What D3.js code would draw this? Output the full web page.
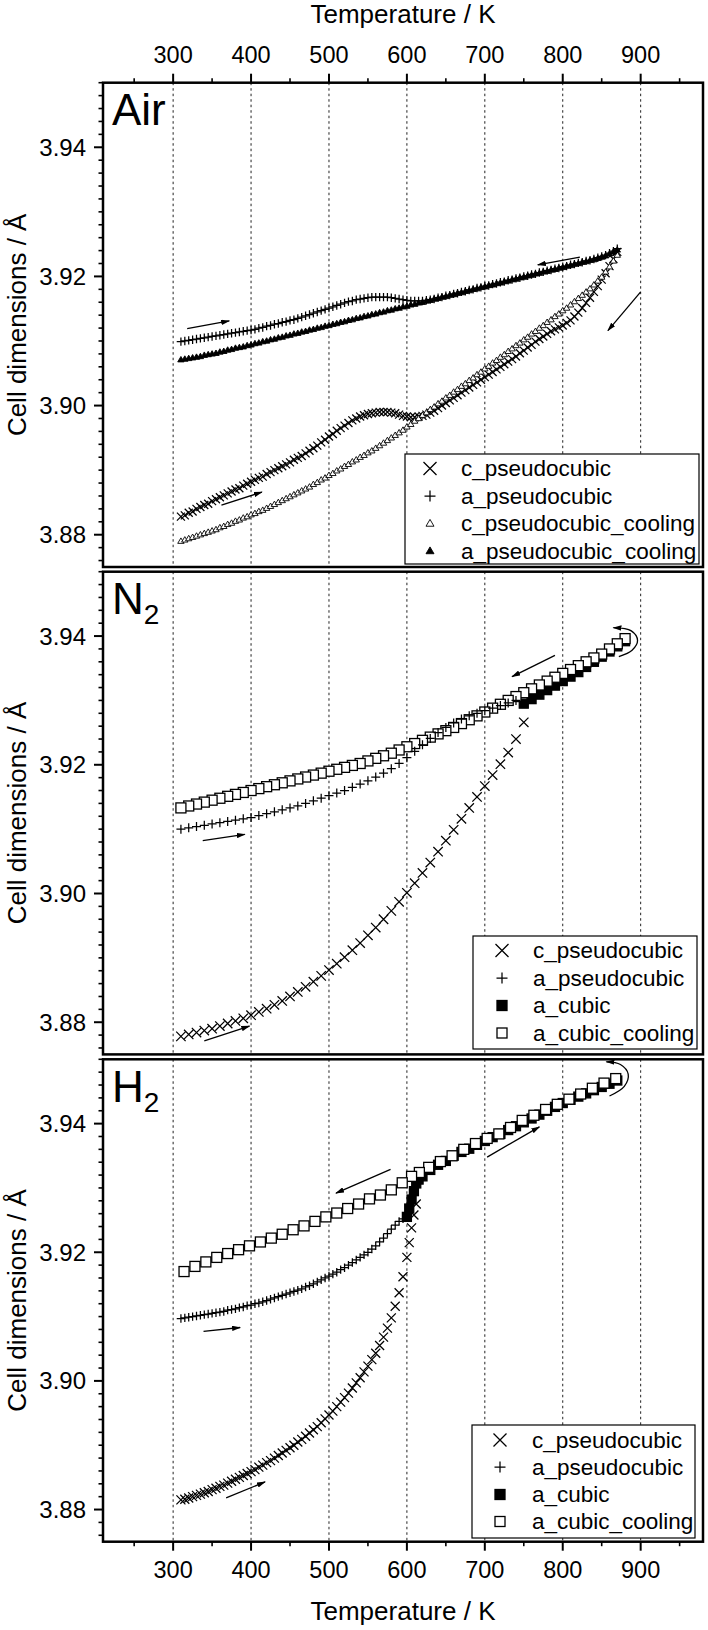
<!DOCTYPE html>
<html><head><meta charset="utf-8">
<script src="https://cdn.jsdelivr.net/npm/d3@7"></script>
<style>body{margin:0;background:#fff;} svg{display:block;} text{font-family:"Liberation Sans",Arial,sans-serif;fill:#000;}</style>
</head><body><div id="chart"></div>
<script>
// ---------------- data ----------------
const T_TICKS = [300,400,500,600,700,800,900];
const T_MINOR = [250,350,450,550,650,750,850,950];
const Y_TICKS = [3.88,3.90,3.92,3.94];
const T_DOMAIN = [210,980];
const Y_DOMAIN = [3.875,3.95];

// Air (temperatures of the dense heating/cooling scans)
const AIR_T = [310,315,320,325,330,335,340,345,350,355,360,365,370,375,380,385,390,395,400,405,410,415,420,425,430,435,440,445,450,455,460,465,470,475,480,485,490,495,500,505,510,515,520,525,530,535,540,545,550,555,560,565,570,575,580,585,590,595,600,605,610,615,620,625,630,635,640,645,650,655,660,665,670,675,680,685,690,695,700,705,710,715,720,725,730,735,740,745,750,755,760,765,770,775,780,785,790,795,800,805,810,815,820,825,830,835,840,845,850,855,860,865,870];
const air_c = [3.8828,3.8830,3.8834,3.8836,3.8840,3.8843,3.8846,3.8848,3.8852,3.8855,3.8858,3.8861,3.8864,3.8867,3.8870,3.8872,3.8876,3.8879,3.8882,3.8885,3.8888,3.8890,3.8894,3.8897,3.8900,3.8903,3.8906,3.8909,3.8912,3.8916,3.8919,3.8922,3.8926,3.8930,3.8934,3.8938,3.8943,3.8947,3.8952,3.8956,3.8961,3.8965,3.8969,3.8973,3.8977,3.8980,3.8983,3.8985,3.8987,3.8988,3.8989,3.8990,3.8990,3.8990,3.8989,3.8988,3.8986,3.8984,3.8983,3.8982,3.8982,3.8983,3.8984,3.8986,3.8989,3.8992,3.8996,3.9000,3.9004,3.9008,3.9012,3.9016,3.9020,3.9024,3.9028,3.9032,3.9036,3.9040,3.9044,3.9048,3.9052,3.9056,3.9060,3.9064,3.9068,3.9072,3.9076,3.9081,3.9085,3.9090,3.9094,3.9099,3.9103,3.9107,3.9111,3.9115,3.9118,3.9121,3.9124,3.9128,3.9132,3.9138,3.9144,3.9151,3.9159,3.9167,3.9176,3.9185,3.9195,3.9205,3.9216,3.9227,3.9238];
const air_a = [3.9099,3.9100,3.9101,3.9102,3.9103,3.9104,3.9105,3.9106,3.9107,3.9108,3.9109,3.9110,3.9111,3.9112,3.9113,3.9114,3.9115,3.9116,3.9117,3.9118,3.9120,3.9121,3.9123,3.9124,3.9126,3.9127,3.9129,3.9130,3.9132,3.9133,3.9135,3.9137,3.9139,3.9141,3.9143,3.9145,3.9147,3.9149,3.9151,3.9153,3.9155,3.9157,3.9159,3.9161,3.9162,3.9164,3.9165,3.9166,3.9167,3.9168,3.9168,3.9168,3.9168,3.9168,3.9167,3.9166,3.9165,3.9164,3.9163,3.9162,3.9162,3.9162,3.9162,3.9163,3.9164,3.9165,3.9167,3.9168,3.9170,3.9171,3.9173,3.9174,3.9176,3.9177,3.9179,3.9180,3.9182,3.9183,3.9185,3.9186,3.9188,3.9189,3.9191,3.9192,3.9194,3.9195,3.9197,3.9198,3.9200,3.9201,3.9203,3.9204,3.9206,3.9207,3.9209,3.9210,3.9212,3.9213,3.9215,3.9216,3.9218,3.9219,3.9221,3.9222,3.9224,3.9225,3.9227,3.9229,3.9231,3.9233,3.9236,3.9239,3.9243];
const air_c_cool = [3.8790,3.8792,3.8794,3.8796,3.8798,3.8800,3.8802,3.8804,3.8806,3.8808,3.8811,3.8813,3.8816,3.8818,3.8821,3.8823,3.8826,3.8828,3.8831,3.8833,3.8836,3.8838,3.8841,3.8844,3.8847,3.8850,3.8853,3.8856,3.8859,3.8862,3.8865,3.8868,3.8871,3.8874,3.8878,3.8881,3.8885,3.8888,3.8892,3.8895,3.8899,3.8902,3.8906,3.8909,3.8913,3.8916,3.8920,3.8923,3.8927,3.8930,3.8934,3.8938,3.8942,3.8946,3.8950,3.8954,3.8958,3.8962,3.8967,3.8971,3.8976,3.8980,3.8985,3.8989,3.8994,3.8998,3.9003,3.9007,3.9012,3.9016,3.9021,3.9025,3.9030,3.9034,3.9039,3.9043,3.9048,3.9052,3.9057,3.9061,3.9066,3.9070,3.9075,3.9079,3.9084,3.9088,3.9093,3.9097,3.9102,3.9106,3.9111,3.9115,3.9120,3.9124,3.9129,3.9133,3.9138,3.9142,3.9147,3.9151,3.9156,3.9161,3.9166,3.9171,3.9176,3.9181,3.9187,3.9193,3.9199,3.9207,3.9215,3.9224,3.9233];
const air_a_cool = [3.9071,3.9072,3.9073,3.9074,3.9075,3.9076,3.9078,3.9079,3.9080,3.9081,3.9083,3.9084,3.9086,3.9087,3.9089,3.9090,3.9091,3.9093,3.9094,3.9096,3.9097,3.9099,3.9100,3.9102,3.9103,3.9105,3.9106,3.9108,3.9109,3.9111,3.9112,3.9114,3.9115,3.9117,3.9118,3.9120,3.9121,3.9123,3.9124,3.9126,3.9127,3.9129,3.9130,3.9132,3.9133,3.9135,3.9136,3.9138,3.9139,3.9141,3.9142,3.9144,3.9145,3.9147,3.9148,3.9150,3.9151,3.9153,3.9154,3.9156,3.9157,3.9159,3.9160,3.9162,3.9163,3.9165,3.9166,3.9168,3.9169,3.9171,3.9172,3.9174,3.9175,3.9177,3.9178,3.9180,3.9181,3.9183,3.9184,3.9186,3.9187,3.9189,3.9190,3.9192,3.9193,3.9195,3.9196,3.9198,3.9199,3.9201,3.9202,3.9204,3.9205,3.9207,3.9208,3.9210,3.9211,3.9213,3.9214,3.9216,3.9217,3.9219,3.9220,3.9222,3.9223,3.9225,3.9226,3.9228,3.9230,3.9232,3.9235,3.9238,3.9241];

// N2
const n2_c = [[310,3.8778],[320,3.8781],[330,3.8784],[340,3.8787],[350,3.8790],[360,3.8794],[370,3.8798],[380,3.8802],[390,3.8806],[400,3.8811],[410,3.8816],[420,3.8821],[430,3.8827],[440,3.8833],[450,3.8840],[460,3.8847],[470,3.8855],[480,3.8863],[490,3.8872],[500,3.8881],[510,3.8891],[520,3.8901],[530,3.8912],[540,3.8923],[550,3.8935],[560,3.8947],[570,3.8960],[580,3.8973],[590,3.8987],[600,3.9001],[610,3.9016],[620,3.9032],[630,3.9048],[640,3.9065],[650,3.9082],[660,3.9099],[670,3.9116],[680,3.9133],[690,3.9150],[700,3.9167],[710,3.9184],[720,3.9201],[730,3.9219],[740,3.9240],[750,3.9266]];
const n2_a = [[310,3.9100],[320,3.9102],[330,3.9104],[340,3.9106],[350,3.9108],[360,3.9110],[370,3.9112],[380,3.9114],[390,3.9116],[400,3.9118],[410,3.9121],[420,3.9124],[430,3.9127],[440,3.9130],[450,3.9133],[460,3.9136],[470,3.9140],[480,3.9144],[490,3.9148],[500,3.9152],[510,3.9156],[520,3.9160],[530,3.9165],[540,3.9170],[550,3.9175],[560,3.9181],[570,3.9187],[580,3.9194],[590,3.9202],[600,3.9211],[610,3.9221],[620,3.9231],[630,3.9241],[640,3.9250],[650,3.9258],[660,3.9265],[670,3.9271],[680,3.9276],[690,3.9280],[700,3.9284],[710,3.9288],[720,3.9292],[730,3.9296],[740,3.9300]];
const n2_cubic = [[750,3.9295],[760,3.9302],[770,3.9309],[780,3.9316],[790,3.9323],[800,3.9330],[810,3.9337],[820,3.9344],[830,3.9352],[840,3.9360],[850,3.9368],[860,3.9376],[870,3.9384],[880,3.9392]];
const n2_cubic_cool = [[880,3.9396],[870,3.9388],[860,3.9380],[850,3.9372],[840,3.9366],[830,3.9360],[820,3.9354],[810,3.9348],[800,3.9342],[790,3.9336],[780,3.9330],[770,3.9324],[760,3.9318],[750,3.9312],[740,3.9306],[730,3.9300],[720,3.9294],[710,3.9288],[700,3.9282],[690,3.9276],[680,3.9270],[670,3.9264],[660,3.9258],[650,3.9253],[640,3.9248],[630,3.9243],[620,3.9238],[610,3.9233],[600,3.9228],[590,3.9223],[580,3.9218],[570,3.9214],[560,3.9210],[550,3.9206],[540,3.9202],[530,3.9199],[520,3.9196],[510,3.9193],[500,3.9190],[490,3.9187],[480,3.9184],[470,3.9181],[460,3.9178],[450,3.9175],[440,3.9172],[430,3.9169],[420,3.9166],[410,3.9163],[400,3.9160],[390,3.9157],[380,3.9154],[370,3.9151],[360,3.9148],[350,3.9145],[340,3.9142],[330,3.9139],[320,3.9136],[310,3.9133]];

// H2
const H2_T = [310,315,320,325,330,335,340,345,350,355,360,365,370,375,380,385,390,395,400,405,410,415,420,425,430,435,440,445,450,455,460,465,470,475,480,485,490,495,500,505,510,515,520,525,530,535,540,545,550,555,560,565,570,575,580,585,590,595,600];
const h2_c_low = [3.8815,3.8816,3.8818,3.8820,3.8822,3.8824,3.8826,3.8828,3.8831,3.8833,3.8836,3.8838,3.8841,3.8844,3.8847,3.8850,3.8853,3.8856,3.8859,3.8862,3.8866,3.8869,3.8873,3.8876,3.8880,3.8884,3.8888,3.8892,3.8896,3.8900,3.8905,3.8909,3.8914,3.8919,3.8924,3.8929,3.8935,3.8941,3.8947,3.8953,3.8960,3.8967,3.8974,3.8981,3.8989,3.8997,3.9005,3.9014,3.9023,3.9033,3.9043,3.9055,3.9068,3.9082,3.9098,3.9116,3.9137,3.9162,3.9192];
const h2_c_top = [[603,3.9215],[606,3.9238],[609,3.9258],[612,3.9275]];
const h2_a = [3.9097,3.9098,3.9099,3.9100,3.9101,3.9102,3.9103,3.9104,3.9105,3.9106,3.9107,3.9108,3.9110,3.9111,3.9112,3.9114,3.9115,3.9117,3.9118,3.9120,3.9121,3.9123,3.9125,3.9127,3.9129,3.9131,3.9133,3.9135,3.9137,3.9139,3.9141,3.9143,3.9146,3.9148,3.9151,3.9154,3.9157,3.9160,3.9163,3.9166,3.9169,3.9173,3.9176,3.9180,3.9184,3.9188,3.9192,3.9196,3.9200,3.9205,3.9210,3.9216,3.9222,3.9229,3.9236,3.9242,3.9248,3.9252,3.9255];
const h2_cubic = [[600,3.9255],[603,3.9268],[606,3.9282],[609,3.9295],[612,3.9307],[615,3.9313],[620,3.9318],[630,3.9328],[640,3.9336],[650,3.9342],[660,3.9350],[670,3.9356],[680,3.9361],[690,3.9367],[700,3.9373],[710,3.9379],[720,3.9384],[730,3.9390],[740,3.9396],[750,3.9402],[760,3.9408],[770,3.9414],[780,3.9420],[790,3.9426],[800,3.9432],[810,3.9437],[820,3.9442],[830,3.9447],[840,3.9452],[850,3.9457],[860,3.9462],[870,3.9467]];
const h2_cubic_cool = [[868,3.9470],[853,3.9463],[838,3.9455],[823,3.9446],[808,3.9438],[793,3.9430],[778,3.9422],[763,3.9413],[748,3.9405],[733,3.9394],[718,3.9384],[703,3.9377],[688,3.9369],[673,3.9360],[658,3.9350],[643,3.9341],[628,3.9332],[616,3.9324],[606,3.9318],[594,3.9308],[580,3.9297],[566,3.9289],[552,3.9283],[538,3.9275],[524,3.9268],[510,3.9261],[496,3.9255],[482,3.9248],[468,3.9241],[454,3.9235],[440,3.9228],[426,3.9222],[412,3.9216],[398,3.9210],[384,3.9204],[370,3.9198],[356,3.9192],[342,3.9185],[328,3.9178],[314,3.9170]];

// direction arrows (data units)
const air_arrows = [[[318,3.9119],[372,3.9131]],[[362,3.8846],[414,3.8866]],[[822,3.9230],[768,3.9218]],[[900,3.9176],[858,3.9116]]];
const n2_arrows = [[[338,3.9082],[392,3.9092]],[[340,3.8771],[398,3.8794]],[[790,3.9370],[735,3.9337]]];
const n2_turn = [[872,3.9368],[889,3.9378],[896,3.9393],[888,3.9408],[865,3.9413]];
const h2_arrows = [[[339,3.9077],[386,3.9083]],[[368,3.8818],[418,3.8843]],[[579,3.9329],[509,3.9292]],[[703,3.9348],[770,3.9395]]];
const h2_turn = [[860,3.9443],[879,3.9458],[884,3.9477],[874,3.9492],[856,3.9496]];

const LEG_AIR = ["c_pseudocubic","a_pseudocubic","c_pseudocubic_cooling","a_pseudocubic_cooling"];
const LEG_GAS = ["c_pseudocubic","a_pseudocubic","a_cubic","a_cubic_cooling"];

// ---------------- drawing ----------------
const pair = (T, v) => T.map((t,i)=>[t, v[i]]);
const W = 708, H = 1630;
const svg = d3.select('#chart').append('svg').attr('width',W).attr('height',H);
svg.append('rect').attr('width',W).attr('height',H).attr('fill','#fff');
const defs = svg.append('defs');
defs.append('marker').attr('id','ah').attr('viewBox','0 0 10 6').attr('refX',9).attr('refY',3)
  .attr('markerWidth',9).attr('markerHeight',5.5).attr('markerUnits','userSpaceOnUse').attr('orient','auto')
  .append('path').attr('d','M0,0L10,3L0,6Z').attr('fill','#000');

const X0 = 103, X1 = 703;
const x = d3.scaleLinear().domain(T_DOMAIN).range([X0, X1]);

const panels = [
  {top:82.7, bottom:567, label:'Air', sub:null,
   series:[{d:pair(AIR_T,air_c),m:'x',s:4},{d:pair(AIR_T,air_c_cool),m:'tri',s:3.2},{d:pair(AIR_T,air_a_cool),m:'trif',s:3.2},{d:pair(AIR_T,air_a),m:'+',s:4.2}],
   arrows:air_arrows, turn:null,
   legend:{x0:405,x1:699,y0:454,y1:564,rows:[468.5,496,523.5,551],sx:430,tx:461,
           items:[['x',6.5],['+',5.5],['tri',4],['trif',4]], names:LEG_AIR}},
  {top:571.7, bottom:1054.4, label:'N', sub:'2',
   series:[{d:n2_cubic,m:'sqf',s:4.5},{d:n2_cubic_cool,m:'sq',s:5},{d:n2_a,m:'+',s:4.5},{d:n2_c,m:'x',s:4.7}],
   arrows:n2_arrows, turn:n2_turn,
   legend:{x0:473,x1:697,y0:936,y1:1049,rows:[950.5,978,1005.5,1033],sx:502,tx:533,
           items:[['x',6.5],['+',5.5],['sqf',5],['sq',5]], names:LEG_GAS}},
  {top:1059.3, bottom:1541.7, label:'H', sub:'2',
   series:[{d:h2_cubic,m:'sqf',s:4.5},{d:h2_cubic_cool,m:'sq',s:5},{d:pair(H2_T,h2_a),m:'+',s:4.2},{d:pair(H2_T,h2_c_low).concat(h2_c_top),m:'x',s:4.5}],
   arrows:h2_arrows, turn:h2_turn,
   legend:{x0:472,x1:695,y0:1425,y1:1538,rows:[1440,1467,1494.5,1521.5],sx:500,tx:532,
           items:[['x',6.5],['+',5.5],['sqf',5],['sq',5]], names:LEG_GAS}}
];

function drawMarker(g, type, cx, cy, s){
  const k = '#000';
  if(type==='x'){
    g.append('path').attr('d',`M${cx-s},${cy-s}L${cx+s},${cy+s}M${cx-s},${cy+s}L${cx+s},${cy-s}`)
     .attr('stroke',k).attr('stroke-width',1.25).attr('fill','none');
  } else if(type==='+'){
    g.append('path').attr('d',`M${cx-s},${cy}L${cx+s},${cy}M${cx},${cy-s}L${cx},${cy+s}`)
     .attr('stroke',k).attr('stroke-width',1.25).attr('fill','none');
  } else if(type==='tri' || type==='trif'){
    const h = s*1.7;
    g.append('path').attr('d',`M${cx},${cy-h*0.6}L${cx+s},${cy+h*0.4}L${cx-s},${cy+h*0.4}Z`)
     .attr('stroke',k).attr('stroke-width',0.9).attr('fill',type==='trif'?k:'#fff');
  } else if(type==='sq' || type==='sqf'){
    g.append('rect').attr('x',cx-s).attr('y',cy-s).attr('width',2*s).attr('height',2*s)
     .attr('stroke',k).attr('stroke-width',1.3).attr('fill',type==='sqf'?k:'#fff');
  }
}

panels.forEach((p,pi)=>{
  const y = d3.scaleLinear().domain(Y_DOMAIN).range([p.bottom, p.top]);
  const g = svg.append('g');
  // grid
  g.selectAll('line.grid').data(T_TICKS).enter().append('line')
    .attr('x1',d=>x(d)).attr('x2',d=>x(d)).attr('y1',p.top).attr('y2',p.bottom)
    .attr('stroke','#222').attr('stroke-width',1).attr('stroke-dasharray','2.5,3');
  // data
  const dg = g.append('g');
  p.series.forEach(s=>{
    s.d.forEach(pt=>drawMarker(dg, s.m, x(pt[0]), y(pt[1]), s.s));
  });
  // arrows
  p.arrows.forEach(a=>{
    g.append('line').attr('x1',x(a[0][0])).attr('y1',y(a[0][1])).attr('x2',x(a[1][0])).attr('y2',y(a[1][1]))
     .attr('stroke','#000').attr('stroke-width',1.3).attr('marker-end','url(#ah)');
  });
  if(p.turn){
    const ln = d3.line().x(d=>x(d[0])).y(d=>y(d[1])).curve(d3.curveCatmullRom);
    g.append('path').attr('d',ln(p.turn)).attr('fill','none').attr('stroke','#000').attr('stroke-width',1.3).attr('marker-end','url(#ah)');
  }
  // legend
  const L = p.legend;
  const lg = g.append('g');
  lg.append('rect').attr('x',L.x0).attr('y',L.y0).attr('width',L.x1-L.x0).attr('height',L.y1-L.y0)
    .attr('fill','#fff').attr('stroke','#000').attr('stroke-width',1.2);
  L.rows.forEach((ry,i)=>{
    drawMarker(lg, L.items[i][0], L.sx, ry, L.items[i][1]);
    lg.append('text').attr('x',L.tx).attr('y',ry).attr('dominant-baseline','central')
      .attr('font-size',22.5).text(L.names[i]);
  });
  // frame
  g.append('rect').attr('x',X0).attr('y',p.top).attr('width',X1-X0).attr('height',p.bottom-p.top)
    .attr('fill','none').attr('stroke','#000').attr('stroke-width',2.5);
  // left ticks
  const minor = d3.range(3.876, 3.9501, 0.002).filter(v=>!Y_TICKS.some(t=>Math.abs(t-v)<1e-6));
  g.selectAll('line.ymin').data(minor).enter().append('line')
    .attr('x1',X0-4.5).attr('x2',X0).attr('y1',d=>y(d)).attr('y2',d=>y(d)).attr('stroke','#000').attr('stroke-width',1.6);
  g.selectAll('line.ymaj').data(Y_TICKS).enter().append('line')
    .attr('x1',X0-9).attr('x2',X0).attr('y1',d=>y(d)).attr('y2',d=>y(d)).attr('stroke','#000').attr('stroke-width',2);
  g.selectAll('text.ylab').data(Y_TICKS).enter().append('text')
    .attr('x',86).attr('y',d=>y(d)).attr('text-anchor','end').attr('dominant-baseline','central')
    .attr('font-size',24).text(d=>d.toFixed(2));
  // panel label
  const lab = g.append('text').attr('x',112).attr('y',p.top+42.5).attr('font-size',44);
  lab.append('tspan').text(p.label);
  if(p.sub) lab.append('tspan').attr('font-size',28).attr('dy',10).text(p.sub);
  // y title
  g.append('text').attr('transform',`translate(26,${(p.top+p.bottom)/2}) rotate(-90)`)
    .attr('text-anchor','middle').attr('font-size',26).text('Cell dimensions / Å');
});

// top and bottom temperature axes
function tAxis(yLine, dir, labY, titleY){
  const g = svg.append('g');
  g.selectAll('line.tmaj').data(T_TICKS).enter().append('line')
    .attr('x1',d=>x(d)).attr('x2',d=>x(d)).attr('y1',yLine).attr('y2',yLine+dir*9)
    .attr('stroke','#000').attr('stroke-width',2);
  g.selectAll('line.tmin').data(T_MINOR).enter().append('line')
    .attr('x1',d=>x(d)).attr('x2',d=>x(d)).attr('y1',yLine).attr('y2',yLine+dir*4.5)
    .attr('stroke','#000').attr('stroke-width',1.6);
  g.selectAll('text.tl').data(T_TICKS).enter().append('text')
    .attr('x',d=>x(d)).attr('y',labY).attr('text-anchor','middle').attr('font-size',23.5).text(d=>d);
  g.append('text').attr('x',(X0+X1)/2).attr('y',titleY).attr('text-anchor','middle')
    .attr('font-size',26).text('Temperature / K');
}
tAxis(panels[0].top, -1, 62.7, 23.3);
tAxis(panels[2].bottom, 1, 1578.3, 1620);
</script>
</body></html>
